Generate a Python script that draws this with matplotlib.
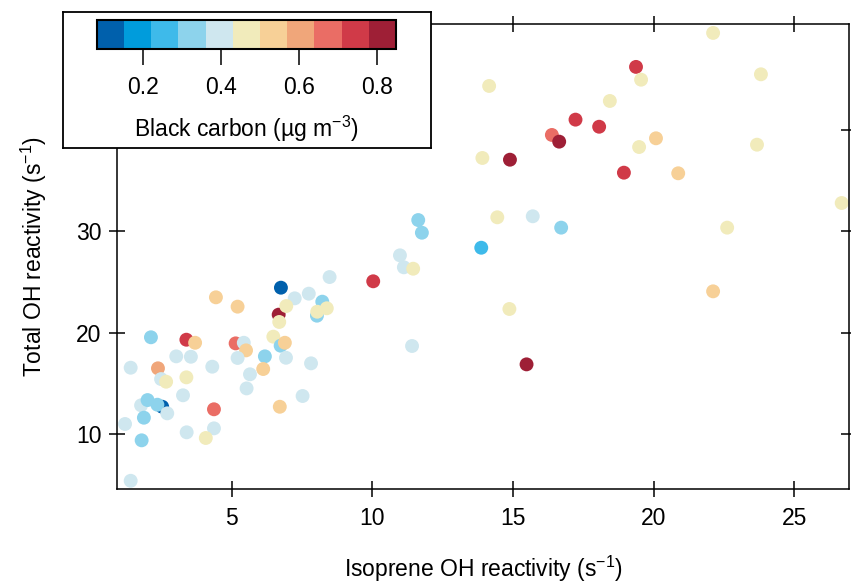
import numpy as np
import matplotlib
matplotlib.use('Agg')
import matplotlib.pyplot as plt
from matplotlib.colors import ListedColormap, BoundaryNorm

plt.rcParams['font.family'] = 'Liberation Sans'
plt.rcParams['font.size'] = 16.5
plt.rcParams['mathtext.default'] = 'regular'

# data
iso_oh = [22.11, 19.37, 19.55, 23.81, 14.15, 18.44, 17.22, 18.06, 16.38, 16.64,
          20.08, 19.48, 23.67, 13.91, 14.89, 18.94, 20.87, 26.68, 14.44, 15.70,
          11.63, 11.76, 16.71, 22.61, 13.87, 10.98, 11.12, 11.45, 22.11, 14.87,
          11.41, 15.48, 10.03, 8.48, 6.75, 7.74, 7.24, 8.22, 8.03, 8.04,
          8.38, 6.67, 6.94, 6.69, 4.44, 5.21, 6.48, 6.74, 6.89, 6.93,
          7.82, 6.18, 6.12, 7.52, 6.71, 5.14, 5.43, 5.51, 5.21, 5.65,
          5.53, 3.39, 3.70, 2.13, 3.03, 3.55, 4.31, 1.41, 2.38, 2.49,
          2.67, 3.39, 3.27, 4.37, 2.53, 1.78, 2.01, 2.36, 2.71, 1.88,
          1.21, 3.40, 4.37, 4.08, 1.80, 1.41]
total_oh = [49.55, 46.20, 44.94, 45.47, 44.32, 42.84, 41.00, 40.30, 39.49, 38.83,
            39.16, 38.30, 38.53, 37.22, 37.05, 35.77, 35.71, 32.78, 31.37, 31.47,
            31.10, 29.85, 30.35, 30.35, 28.37, 27.62, 26.44, 26.30, 24.07, 22.33,
            18.68, 16.87, 25.06, 25.48, 24.43, 23.84, 23.38, 23.05, 21.67, 22.06,
            22.40, 21.77, 22.62, 21.05, 23.48, 22.56, 19.60, 18.71, 19.00, 17.52,
            16.97, 17.66, 16.41, 13.75, 12.69, 18.94, 19.00, 18.25, 17.50, 15.89,
            14.50, 19.30, 19.00, 19.54, 17.66, 17.62, 16.64, 16.54, 16.48, 15.42,
            15.16, 15.59, 13.82, 12.44, 12.69, 12.83, 13.35, 12.89, 12.04, 11.61,
            10.99, 10.17, 10.56, 9.61, 9.38, 5.39]
black_carbon = [0.47, 0.75, 0.47, 0.47, 0.47, 0.47, 0.75, 0.75, 0.68, 0.82,
                0.54, 0.47, 0.47, 0.47, 0.82, 0.75, 0.54, 0.47, 0.47, 0.40,
                0.33, 0.33, 0.33, 0.47, 0.26, 0.40, 0.40, 0.47, 0.54, 0.47,
                0.40, 0.82, 0.75, 0.40, 0.12, 0.40, 0.40, 0.33, 0.33, 0.47,
                0.47, 0.82, 0.47, 0.47, 0.54, 0.54, 0.47, 0.33, 0.54, 0.40,
                0.40, 0.33, 0.54, 0.40, 0.54, 0.68, 0.40, 0.54, 0.40, 0.40,
                0.40, 0.75, 0.54, 0.33, 0.40, 0.40, 0.40, 0.40, 0.61, 0.40,
                0.47, 0.47, 0.40, 0.68, 0.12, 0.40, 0.33, 0.33, 0.40, 0.33,
                0.40, 0.40, 0.40, 0.47, 0.33, 0.40]

bc_colors = ['#0060AC', '#009CDC', '#3EBAEA', '#8DD3EC', '#CFE7EF', '#F1EBBB',
             '#F7D097', '#F0A67A', '#EA6D65', '#D03A48', '#9E1F36']
bc_bounds = np.linspace(0.08, 0.85, 12)
cb_ticks = [0.2, 0.4, 0.6, 0.8]

cmap = ListedColormap(bc_colors)
norm = BoundaryNorm(bc_bounds, cmap.N)

fig = plt.figure(figsize=(8.51, 5.85), dpi=100)
ax = fig.add_axes([117/851, 1-489/585, 732/851, 465/585])

sc = ax.scatter(iso_oh, total_oh, c=black_carbon, cmap=cmap, norm=norm,
                s=100, linewidths=0)

ax.set_xlim(0.924, 26.94)
ax.set_ylim(4.58, 50.43)
ax.set_xticks([5, 10, 15, 20, 25])
ax.set_yticks([10, 20, 30, 40])
ax.tick_params(direction='inout', length=12.2, width=1.1, top=True, right=True,
               labeltop=False, labelright=False)
ax.tick_params(axis='x', pad=7)
ax.tick_params(axis='y', pad=5)
for sp in ax.spines.values():
    sp.set_linewidth(1.1)

ax.set_xlabel('Isoprene OH reactivity (s$^{-1}$)')
ax.xaxis.label.set_va('baseline')
ax.xaxis.set_label_coords(0.5, (489-577)/465)
ax.set_ylabel('Total OH reactivity (s$^{-1}$)')
ax.yaxis.label.set_va('baseline')
ax.yaxis.set_label_coords((41.7-117)/732, 0.5)

# box holding the colour scale
box = fig.add_axes([63/851, 1-148/585, 368/851, 136/585])
box.set_xticks([])
box.set_yticks([])
box.set_facecolor('white')
for sp in box.spines.values():
    sp.set_linewidth(1.3)
box.set_zorder(5)

cax = fig.add_axes([96.7/851, 1-49.3/585, 299.3/851, 29.3/585])
cax.set_zorder(6)
cb = fig.colorbar(sc, cax=cax, orientation='horizontal', ticks=cb_ticks)
cb.outline.set_linewidth(1.5)
cax.tick_params(direction='out', length=11.5, width=1.1, pad=8)
cax.xaxis.set_minor_locator(matplotlib.ticker.NullLocator())
cb.set_label('Black carbon (µg m$^{-3}$)')
cax.xaxis.label.set_va('baseline')
cax.xaxis.set_label_coords(0.5, (49.3-137)/29.3)

fig.savefig('out.png', dpi=100)
